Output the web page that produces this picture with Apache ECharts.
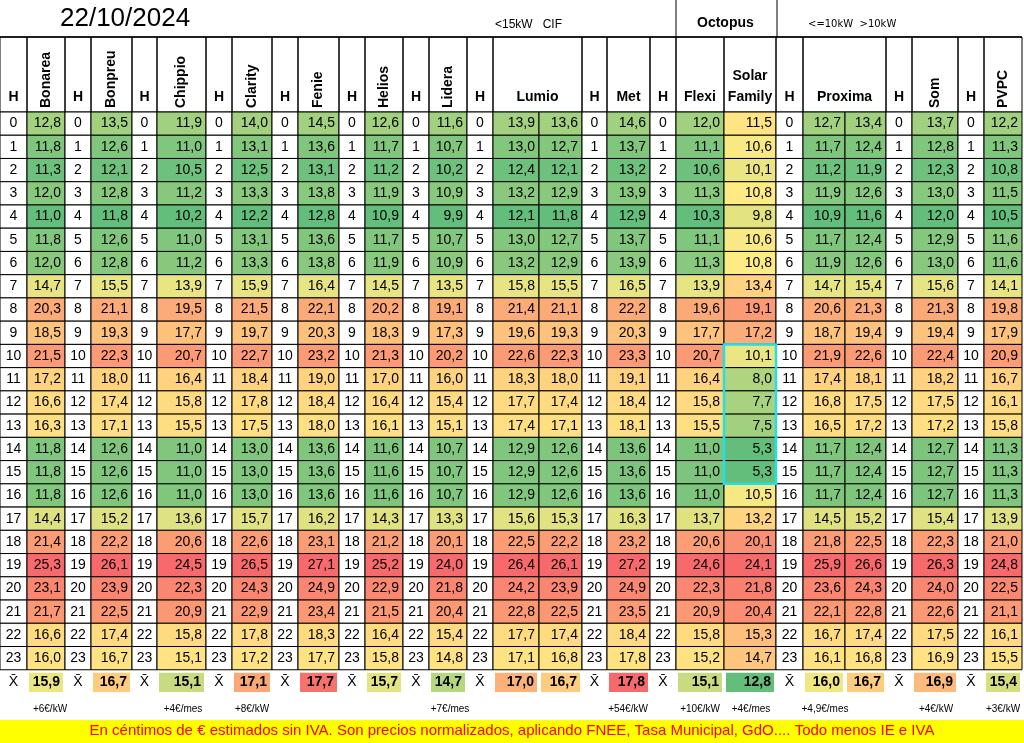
<!DOCTYPE html>
<html><head><meta charset="utf-8">
<script src="https://cdn.jsdelivr.net/npm/echarts@6/dist/echarts.min.js"></script>
<style>html,body{margin:0;padding:0;background:#fff}#main{width:1024px;height:743px}</style>
</head><body><div id="main"></div>
<script>
// precios por hora (cént. €/kWh), columna a columna
var hours = [0,1,2,3,4,5,6,7,8,9,10,11,12,13,14,15,16,17,18,19,20,21,22,23];
var bonarea = [12.8,11.8,11.3,12.0,11.0,11.8,12.0,14.7,20.3,18.5,21.5,17.2,16.6,16.3,11.8,11.8,11.8,14.4,21.4,25.3,23.1,21.7,16.6,16.0];
var bonpreu = [13.5,12.6,12.1,12.8,11.8,12.6,12.8,15.5,21.1,19.3,22.3,18.0,17.4,17.1,12.6,12.6,12.6,15.2,22.2,26.1,23.9,22.5,17.4,16.7];
var chippio = [11.9,11.0,10.5,11.2,10.2,11.0,11.2,13.9,19.5,17.7,20.7,16.4,15.8,15.5,11.0,11.0,11.0,13.6,20.6,24.5,22.3,20.9,15.8,15.1];
var clarity = [14.0,13.1,12.5,13.3,12.2,13.1,13.3,15.9,21.5,19.7,22.7,18.4,17.8,17.5,13.0,13.0,13.0,15.7,22.6,26.5,24.3,22.9,17.8,17.2];
var fenie = [14.5,13.6,13.1,13.8,12.8,13.6,13.8,16.4,22.1,20.3,23.2,19.0,18.4,18.0,13.6,13.6,13.6,16.2,23.1,27.1,24.9,23.4,18.3,17.7];
var helios = [12.6,11.7,11.2,11.9,10.9,11.7,11.9,14.5,20.2,18.3,21.3,17.0,16.4,16.1,11.6,11.6,11.6,14.3,21.2,25.2,22.9,21.5,16.4,15.8];
var lidera = [11.6,10.7,10.2,10.9,9.9,10.7,10.9,13.5,19.1,17.3,20.2,16.0,15.4,15.1,10.7,10.7,10.7,13.3,20.1,24.0,21.8,20.4,15.4,14.8];
var lumio1 = [13.9,13.0,12.4,13.2,12.1,13.0,13.2,15.8,21.4,19.6,22.6,18.3,17.7,17.4,12.9,12.9,12.9,15.6,22.5,26.4,24.2,22.8,17.7,17.1];
var lumio2 = [13.6,12.7,12.1,12.9,11.8,12.7,12.9,15.5,21.1,19.3,22.3,18.0,17.4,17.1,12.6,12.6,12.6,15.3,22.2,26.1,23.9,22.5,17.4,16.8];
var met = [14.6,13.7,13.2,13.9,12.9,13.7,13.9,16.5,22.2,20.3,23.3,19.1,18.4,18.1,13.6,13.6,13.6,16.3,23.2,27.2,24.9,23.5,18.4,17.8];
var flexi = [12.0,11.1,10.6,11.3,10.3,11.1,11.3,13.9,19.6,17.7,20.7,16.4,15.8,15.5,11.0,11.0,11.0,13.7,20.6,24.6,22.3,20.9,15.8,15.2];
var solar = [11.5,10.6,10.1,10.8,9.8,10.6,10.8,13.4,19.1,17.2,10.1,8.0,7.7,7.5,5.3,5.3,10.5,13.2,20.1,24.1,21.8,20.4,15.3,14.7];
var proxima1 = [12.7,11.7,11.2,11.9,10.9,11.7,11.9,14.7,20.6,18.7,21.9,17.4,16.8,16.5,11.7,11.7,11.7,14.5,21.8,25.9,23.6,22.1,16.7,16.1];
var proxima2 = [13.4,12.4,11.9,12.6,11.6,12.4,12.6,15.4,21.3,19.4,22.6,18.1,17.5,17.2,12.4,12.4,12.4,15.2,22.5,26.6,24.3,22.8,17.4,16.8];
var som = [13.7,12.8,12.3,13.0,12.0,12.9,13.0,15.6,21.3,19.4,22.4,18.2,17.5,17.2,12.7,12.7,12.7,15.4,22.3,26.3,24.0,22.6,17.5,16.9];
var pvpc = [12.2,11.3,10.8,11.5,10.5,11.6,11.6,14.1,19.8,17.9,20.9,16.7,16.1,15.8,11.3,11.3,11.3,13.9,21.0,24.8,22.5,21.1,16.1,15.5];
var averages = [15.9,16.7,15.1,17.1,17.7,15.7,14.7,17.0,16.7,17.8,15.1,12.8,16.0,16.7,16.9,15.4];
var extras = [['+6€/kW',50],['+4€/mes',183],['+8€/kW',252],['+7€/mes',450],['+54€/kW',628],['+10€/kW',700],['+4€/mes',751],['+4,9€/mes',825],['+4€/kW',936],['+3€/kW',1003]];

// layout: column order (null = H column) and pixel edges
var colSeries = [null,bonarea,null,bonpreu,null,chippio,null,clarity,null,fenie,null,helios,null,lidera,null,lumio1,lumio2,null,met,null,flexi,solar,null,proxima1,proxima2,null,som,null,pvpc];
var edges = [0,27,65,91,132,157,206,232,272,298,339,365,403,429,467,493,539,582,607,650,676,724,776,803,845,886,912,958,984,1022];
var headers = [['H','h'],['Bonarea','r'],['H','h'],['Bonpreu','r'],['H','h'],['Chippio','r'],['H','h'],['Clarity','r'],['H','h'],['Fenie','r'],['H','h'],['Helios','r'],['H','h'],['Lidera','r'],['H','h'],['Lumio','w2'],null,['H','h'],['Met','n'],['H','h'],['Flexi','n'],['Solar\nFamily','n'],['H','h'],['Proxima','w2'],null,['H','h'],['Som','r'],['H','h'],['PVPC','r']];

function fmt(v){ return v.toFixed(1).replace('.', ','); }
function median(a){ var s=a.slice().sort(function(x,y){return x-y;}); var n=s.length; return n%2?s[(n-1)/2]:(s[n/2-1]+s[n/2])/2; }
function norm(arr, v){
  var mn=Math.min.apply(null,arr), mx=Math.max.apply(null,arr), md=median(arr);
  if (v<=md) return md===mn?0.5:0.5*(v-mn)/(md-mn);
  return 0.5+0.5*(v-md)/(mx-md);
}
function lerp(a,b,t){ return Math.round(a+(b-a)*t); }
function scaleColor(t){
  var g=[99,190,123], y=[255,235,132], r=[248,105,107], c0, c1, k;
  if (t<0.5){ c0=g; c1=y; k=t/0.5; } else { c0=y; c1=r; k=(t-0.5)/0.5; }
  return 'rgb('+lerp(c0[0],c1[0],k)+','+lerp(c0[1],c1[1],k)+','+lerp(c0[2],c1[2],k)+')';
}

var cells = [], avgCells = [], ai = 0;
colSeries.forEach(function(s, c){
  hours.forEach(function(h, r){
    if (s) cells.push([c, r, s[r], norm(s, s[r]), 0]);
    else cells.push([c, r, h, -1, 1]);
  });
  if (s) { avgCells.push([c, 24, averages[ai], norm(averages, averages[ai]), 0]); ai++; }
  else avgCells.push([c, 24, 0, -1, 1]);
});

function renderCell(params, api){
  var c=api.value(0), r=api.value(1), v=api.value(2), t=api.value(3), isH=api.value(4);
  var p1=api.coord([edges[c], r]), p2=api.coord([edges[c+1], r+1]);
  var w=p2[0]-p1[0], h=p2[1]-p1[1];
  return {type:'group', children:[
    {type:'rect', shape:{x:p1[0],y:p1[1],width:w,height:h},
     style:{fill:isH?'#fff':scaleColor(t), stroke:'#000', lineWidth:1}},
    {type:'text', style:{text:isH?String(v):fmt(v), x:isH?p1[0]+w/2:p2[0]-4, y:p1[1]+h/2,
      align:isH?'center':'right', verticalAlign:'middle', font:'14px "Liberation Sans", Arial', fill:'#000'}}
  ]};
}
function renderAvg(params, api){
  var c=api.value(0), r=api.value(1), v=api.value(2), t=api.value(3), isH=api.value(4);
  var p1=api.coord([edges[c], r]), p2=api.coord([edges[c+1], r+1]);
  var w=p2[0]-p1[0], h=p2[1]-p1[1];
  if (isH) return {type:'text', style:{text:'X̄', x:p1[0]+w/2, y:p1[1]+h/2+1, align:'center', verticalAlign:'middle', font:'14px "Liberation Sans"', fill:'#000'}};
  return {type:'group', children:[
    {type:'rect', shape:{x:p1[0]+2,y:p1[1]+3,width:w-4,height:h-4}, style:{fill:scaleColor(t)}},
    {type:'text', style:{text:fmt(v), x:p2[0]-5, y:p1[1]+h/2+1, align:'right', verticalAlign:'middle', font:'bold 14px "Liberation Sans"', fill:'#000'}}
  ]};
}

var graphics = [
  {type:'text', left:60, top:6, style:{text:'22/10/2024', font:'26px "Liberation Sans"', fill:'#000'}},
  {type:'text', left:495, top:19, style:{text:'<15kW   CIF', font:'12px "Liberation Sans"', fill:'#000'}},
  {type:'text', left:697, top:16, style:{text:'Octopus', font:'bold 14px "Liberation Sans"', fill:'#000'}},
  {type:'text', left:808, top:19, style:{text:'<=10kW  >10kW', font:'10px "DejaVu Sans"', fill:'#000'}},
  {type:'line', shape:{x1:0,y1:37,x2:1022,y2:37}, style:{stroke:'#000',lineWidth:1.5}},
  {type:'line', shape:{x1:676,y1:0,x2:676,y2:37}, style:{stroke:'#000',lineWidth:1}},
  {type:'line', shape:{x1:777,y1:0,x2:777,y2:37}, style:{stroke:'#000',lineWidth:1}},
  {type:'line', shape:{x1:0,y1:667,x2:1022,y2:667}, style:{stroke:'#000',lineWidth:2}},
  {type:'rect', shape:{x:0,y:720,width:1024,height:23}, style:{fill:'#ffff00'}},
  {type:'text', left:'center', top:723, style:{text:'En céntimos de € estimados sin IVA. Son precios normalizados, aplicando FNEE, Tasa Municipal, GdO.... Todo menos IE e IVA', font:'15px "Liberation Sans Narrow", "Liberation Sans"', fill:'#ff0000'}}
];
headers.forEach(function(hd, c){
  if (!hd) return;
  var x0=edges[c], x1=hd[1]==='w2'?edges[c+2]:edges[c+1], cx=(x0+x1)/2;
  graphics.push({type:'rect', shape:{x:x0,y:37,width:x1-x0,height:75}, style:{fill:'none',stroke:'#000',lineWidth:1}});
  if (hd[1]==='r') graphics.push({type:'text', x:cx, y:108, rotation:Math.PI/2, style:{text:hd[0], align:'left', verticalAlign:'middle', font:'bold 14px "Liberation Sans"', fill:'#000'}});
  else graphics.push({type:'text', x:cx, y:108, style:{text:hd[0], align:'center', verticalAlign:'bottom', lineHeight:21, font:'bold 14px "Liberation Sans"', fill:'#000'}});
});
extras.forEach(function(e){
  graphics.push({type:'text', x:e[1], y:709, style:{text:e[0], align:'center', verticalAlign:'middle', font:'10px "Liberation Sans"', fill:'#000'}});
});

var myChart = echarts.init(document.getElementById('main'));
myChart.setOption({
  animation:false,
  grid:{left:0, right:0, top:112, bottom:50},
  xAxis:{type:'value', min:0, max:1024, show:false},
  yAxis:{type:'value', min:0, max:25, inverse:true, show:false},
  series:[
    {type:'custom', renderItem:renderCell, data:cells, encode:{x:0,y:1}},
    {type:'custom', renderItem:renderAvg, data:avgCells, encode:{x:0,y:1}},
    {type:'custom', data:[[21,10]], encode:{x:0,y:1}, z:5, renderItem:function(p, api){
      var c=api.value(0), r=api.value(1);
      var p1=api.coord([edges[c], r]), p2=api.coord([edges[c+1], r+6]);
      return {type:'rect', shape:{x:p1[0],y:p1[1],width:p2[0]-p1[0],height:p2[1]-p1[1]}, style:{fill:'none',stroke:'#22e0e8',lineWidth:2.5}};
    }}
  ],
  graphic:graphics
});
</script></body></html>
